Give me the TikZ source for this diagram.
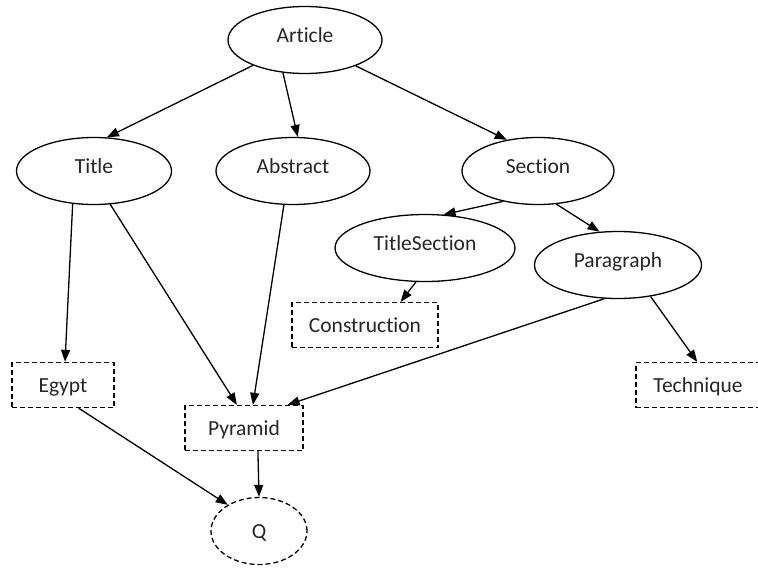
\documentclass[tikz,border=0pt]{standalone}
\usepackage{fontspec}
\setmainfont[Ligatures=NoCommon]{Carlito}
\usetikzlibrary{shapes.geometric,arrows.meta}
\begin{document}
\begin{tikzpicture}[x=1pt,y=-1pt,
  every node/.style={font=\fontsize{21.5}{24}\selectfont, text=black!85},
  oval/.style={ellipse, draw, line width=1.3pt, inner sep=0pt,
               text height=14pt, text depth=9pt,
               minimum width=#1, minimum height=67pt},
  dbox/.style={rectangle, draw, dash pattern=on 5pt off 3pt,
               text height=14pt, text depth=0pt,
               line width=1.3pt, inner sep=0pt, minimum width=#1, minimum height=45pt},
  doval/.style={oval=#1, text height=14pt, text depth=0pt, dash pattern=on 5pt off 3pt},
  link/.style={line width=1.3pt, -{Triangle[length=12pt,width=9pt]}}]
\fill[white] (0,0) rectangle (758,573);
\clip (0,0) rectangle (758,573);

% tree of document parts
\node[oval=154pt] (article) at (305,40) {Article};
\node[oval=155pt] (title) at (94,171) {Title};
\node[oval=154pt] (abstract) at (293,171) {Abstract};
\node[oval=152pt] (section) at (538,171) {Section};
\node[oval=180pt] (titlesection) at (425,248) {TitleSection};
\node[oval=167pt] (paragraph) at (618,265) {Paragraph};

% terms and query
\node[dbox=146pt] (construction) at (365,325) {Construction};
\node[dbox=102pt] (egypt) at (63,385) {Egypt};
\node[dbox=118pt] (pyramid) at (244,428) {Pyramid};
\node[dbox=124pt] (technique) at (698,385) {Technique};
\node[doval=96pt] (q) at (259,531) {Q};

% connectors
\draw[link] (article.206) -- (title.69);
\draw[link] (article.236) -- (abstract.82);
\draw[link] (article.333) -- (section.135);
\draw[link] (title.237) -- (egypt.85);
\draw[link] (title.296) -- (pyramid.107);
\draw[link] (abstract.255) -- (pyramid.69);
\draw[link] (section.221) -- (titlesection.61);
\draw[link] (section.299) -- (paragraph.119);
\draw[link] (titlesection.255) -- (construction.33);
\draw[link] (paragraph.248) -- (pyramid.28);
\draw[link] (paragraph.316) -- (technique.92);
\draw[link] (egypt.304) -- (q.140);
\draw[link] (pyramid.301) -- (q.90);
\end{tikzpicture}
\end{document}
